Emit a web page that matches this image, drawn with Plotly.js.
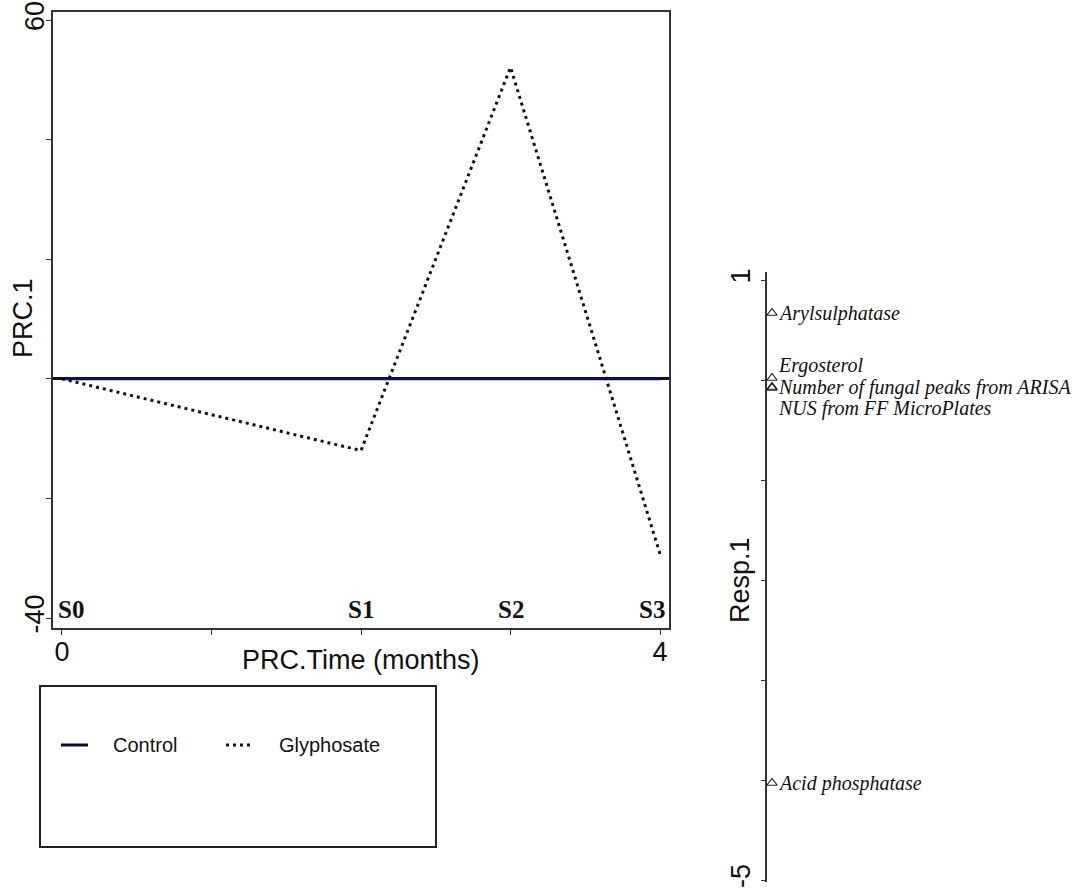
<!DOCTYPE html>
<html><head><meta charset="utf-8">
<script src="https://cdn.plot.ly/plotly-3.0.1.min.js"></script>
<style>html,body{margin:0;padding:0;background:#fff}#chart{width:1080px;height:888px}</style>
</head><body><div id="chart"></div>
<script>
// ---- data ----
const timeMonths = [0, 2, 3, 4];
const sampleLabels = ['S0', 'S1', 'S2', 'S3'];
const seriesNames = ['Control', 'Glyphosate'];
const controlPRC = [0, 0, 0, 0];
const glyphosatePRC = [0, -12.0, 52.1, -29.3];
const xTickValues = [0, 1, 2, 3, 4];
const xTickLabels = ['0', '', '', '', '4'];
const yTickValues = [-40, -20, 0, 20, 40, 60];
const yTickLabels = ['-40', '', '', '', '', '60'];
const responseNames = ['Arylsulphatase', 'Ergosterol', 'Number of fungal peaks from ARISA', 'NUS from FF MicroPlates', 'Acid phosphatase'];
const responseScores = [0.67, 0.02, -0.07, -0.08, -4.03];
const respTickValues = [-5, -4, -3, -2, -1, 0, 1];
const respTickLabels = ['-5', '', '', '', '', '', '1'];

// ---- helpers ----
const W = 1080, H = 888;
const px = x => x / W;
const py = y => 1 - y / H;

// vegan-style linestack label placement
function linestack(vals, ht) {
  const idx = vals.map((v, i) => i).sort((a, b) => vals[a] - vals[b]);
  const x = idx.map(i => vals[i]);
  const n = x.length, pos = new Array(n);
  const mid = Math.floor((n + 1) / 2) - 1;
  pos[mid] = x[mid];
  for (let i = mid + 1; i < n; i++) pos[i] = Math.max(x[i], pos[i - 1] + ht);
  for (let i = mid - 1; i >= 0; i--) pos[i] = Math.min(x[i], pos[i + 1] - ht);
  const out = new Array(n);
  idx.forEach((orig, k) => out[orig] = pos[k]);
  return out;
}
const labelPos = linestack(responseScores, 0.215);

const sans = 'Liberation Sans, Arial, sans-serif';
const serif = 'Liberation Serif, Times New Roman, serif';
const axisCol = '#333';

const traces = [
  { x: timeMonths, y: controlPRC, name: seriesNames[0], mode: 'lines',
    line: { color: '#0b0b6e', width: 3 }, xaxis: 'x', yaxis: 'y', hoverinfo: 'skip' },
  { x: timeMonths, y: glyphosatePRC, name: seriesNames[1], mode: 'lines',
    line: { color: '#111', width: 3, dash: '3px,4px' }, xaxis: 'x', yaxis: 'y', hoverinfo: 'skip' },
  { x: responseScores.map(() => 0), y: responseScores, mode: 'markers', name: 'Resp',
    marker: { symbol: 'triangle-up-open', size: 9, color: '#222', line: { width: 1.2, color: '#222' } },
    xaxis: 'x2', yaxis: 'y2', cliponaxis: false, hoverinfo: 'skip' }
];

const annotations = [];
sampleLabels.forEach((s, i) => {
  const last = i === sampleLabels.length - 1, first = i === 0;
  annotations.push({ x: timeMonths[i], y: -38.5, xref: 'x', yref: 'y', text: '<b>' + s + '</b>',
    showarrow: false, xanchor: first ? 'left' : (last ? 'right' : 'center'), yanchor: 'middle',
    xshift: first ? -6 : (last ? 7 : 0),
    font: { family: serif, size: 25, color: '#111' } });
});
annotations.push({ x: px(23), y: py(318), xref: 'paper', yref: 'paper', text: 'PRC.1', textangle: -90,
  xanchor: 'center', yanchor: 'middle',
  showarrow: false, font: { family: sans, size: 27, color: '#111' } });
annotations.push({ x: px(361), y: py(660), xref: 'paper', yref: 'paper', text: 'PRC.Time (months)',
  xanchor: 'center', yanchor: 'middle',
  showarrow: false, font: { family: sans, size: 27, color: '#111' } });
annotations.push({ x: px(740), y: py(580), xref: 'paper', yref: 'paper', text: 'Resp.1', textangle: -90,
  xanchor: 'center', yanchor: 'middle',
  showarrow: false, font: { family: sans, size: 27, color: '#111' } });
// legend texts
annotations.push({ x: px(111), y: py(745), xref: 'paper', yref: 'paper', text: seriesNames[0],
  xanchor: 'left', yanchor: 'middle', showarrow: false, font: { family: sans, size: 20, color: '#111' } });
annotations.push({ x: px(277), y: py(745), xref: 'paper', yref: 'paper', text: seriesNames[1],
  xanchor: 'left', yanchor: 'middle', showarrow: false, font: { family: sans, size: 20, color: '#111' } });
// response labels
responseNames.forEach((nm, i) => {
  annotations.push({ x: 0, y: labelPos[i], xref: 'x2', yref: 'y2', text: '<i>' + nm + '</i>',
    xanchor: 'left', yanchor: 'middle', xshift: 4, showarrow: false,
    font: { family: serif, size: 20, color: '#111' } });
});

const shapes = [
  { type: 'rect', xref: 'paper', yref: 'paper', x0: px(40), x1: px(436), y0: py(686), y1: py(847),
    line: { color: '#222', width: 2 } },
  { type: 'line', xref: 'paper', yref: 'paper', x0: px(61), x1: px(88), y0: py(745), y1: py(745),
    line: { color: '#0b0b2e', width: 3 } },
  { type: 'line', xref: 'paper', yref: 'paper', x0: px(226), x1: px(253), y0: py(745), y1: py(745),
    line: { color: '#111', width: 3, dash: '3px,4px' } }
];

const layout = {
  width: W, height: H, margin: { l: 0, r: 0, t: 0, b: 0 },
  paper_bgcolor: '#fff', plot_bgcolor: '#fff', showlegend: false,
  xaxis: { domain: [px(53), px(669)], range: [-0.06, 4.06], anchor: 'y',
    tickmode: 'array', tickvals: xTickValues, ticktext: xTickLabels,
    ticks: 'outside', ticklen: 5, tickwidth: 1, tickcolor: axisCol, ticklabelstandoff: -6,
    showline: true, linecolor: axisCol, linewidth: 2, mirror: true,
    showgrid: false, zeroline: false, tickfont: { family: sans, size: 27, color: '#111' } },
  yaxis: { domain: [py(628), py(12)], range: [-41.67, 61.34], anchor: 'x',
    tickmode: 'array', tickvals: yTickValues, ticktext: yTickLabels, tickangle: -90,
    ticks: 'outside', ticklen: 5, tickwidth: 1, tickcolor: axisCol, ticklabelstandoff: -9,
    showline: true, linecolor: axisCol, linewidth: 2, mirror: true,
    showgrid: false, zeroline: true, zerolinecolor: '#111', zerolinewidth: 3,
    tickfont: { family: sans, size: 27, color: '#111' } },
  xaxis2: { domain: [px(767), 1], range: [-5, 308], anchor: 'y2', visible: false },
  yaxis2: { domain: [py(882), py(272)], range: [-5.02, 1.08], anchor: 'x2',
    tickmode: 'array', tickvals: respTickValues, ticktext: respTickLabels, tickangle: -90,
    ticks: 'outside', ticklen: 4, tickwidth: 1, tickcolor: axisCol,
    showline: true, linecolor: axisCol, linewidth: 2,
    showgrid: false, zeroline: false, tickfont: { family: sans, size: 27, color: '#111' } },
  annotations: annotations, shapes: shapes
};

Plotly.newPlot('chart', traces, layout, { staticPlot: true });
</script>
</body></html>
